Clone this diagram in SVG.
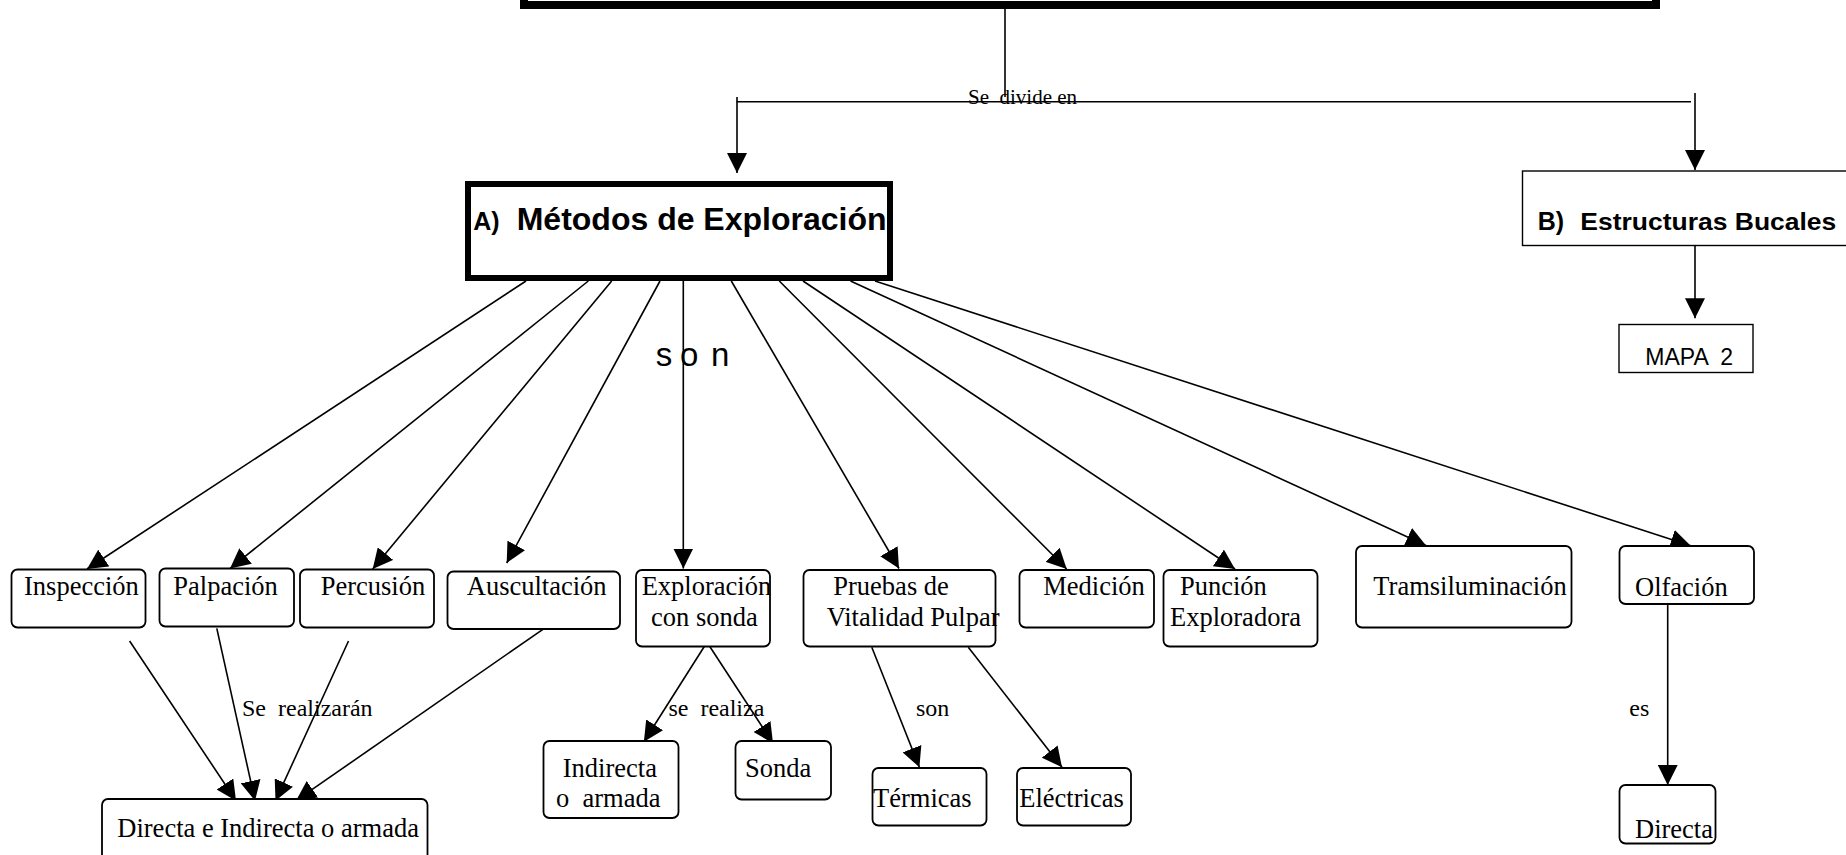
<svg xmlns="http://www.w3.org/2000/svg" width="1846" height="855" viewBox="0 0 1846 855">
<style>
.node{fill:#fff;stroke:#000;stroke-width:1.8}
.t{font-family:"Liberation Serif","Times New Roman",serif;font-size:26.5px;fill:#000;white-space:pre}
.lbl{font-family:"Liberation Serif","Times New Roman",serif;font-size:24px;fill:#000;white-space:pre}
.hb{font-family:"Liberation Sans",Arial,sans-serif;font-weight:bold;fill:#000;white-space:pre}
.e{fill:none;stroke:#000;stroke-width:1.6}
.ea{fill:none;stroke:#000;stroke-width:1.6;marker-end:url(#arr)}
</style>
<defs>
<marker id="arr" markerUnits="userSpaceOnUse" markerWidth="20" markerHeight="20" refX="20" refY="10" orient="auto" viewBox="0 0 20 20">
<path d="M0,0 L20,10 L0,20 z" fill="#000"/>
</marker>
</defs>
<rect width="1846" height="855" fill="#fff"/>

<g id="connectors">
<path class="e" d="M1005,9 L1005,97"/>
<path class="e" d="M736.7,101.7 L1691,101.7"/>
<path class="ea" d="M737,97 L737,173"/>
<path class="ea" d="M1695,93 L1695,170"/>
<path class="ea" d="M1695,246 L1695,318.3"/>
<path class="ea" d="M526,281 L87,569"/>
<path class="ea" d="M588.3,281 L230,568.5"/>
<path class="ea" d="M611.7,281 L372.7,569"/>
<path class="ea" d="M660,281 L506.7,563"/>
<path class="ea" d="M683.3,281 L683.3,568.5"/>
<path class="ea" d="M731.3,281 L899,568.5"/>
<path class="ea" d="M779.3,281 L1066.7,569"/>
<path class="ea" d="M803,281 L1235,569"/>
<path class="ea" d="M850.5,281 L1426,545.5"/>
<path class="ea" d="M875,281 L1690.7,545.7"/>
<path class="ea" d="M129.6,641 L236,800.7"/>
<path class="ea" d="M216.8,628.3 L255,800.7"/>
<path class="ea" d="M348.5,641 L275.5,800.7"/>
<path class="ea" d="M542.9,629.3 L296,800.7"/>
<path class="ea" d="M707,642.3 L643.9,741.7"/>
<path class="ea" d="M707,642.3 L773,743.3"/>
<path class="ea" d="M871.8,647.3 L919.4,767.3"/>
<path class="ea" d="M968.3,647.3 L1062,767.3"/>
<path class="ea" d="M1667.7,593.3 L1667.7,785"/>
<text class="lbl" x="968" y="104" style="font-size:21px">Se  divide en</text>
<text y="366" style="font-family:'Liberation Sans',Arial,sans-serif;font-size:33px;fill:#000"><tspan x="655.7">s</tspan><tspan x="680">o</tspan><tspan x="711">n</tspan></text>
<text class="lbl" x="242" y="716">Se  realizarán</text>
<text class="lbl" x="668.4" y="716">se  realiza</text>
<text class="lbl" x="916" y="716">son</text>
<text class="lbl" x="1629.3" y="716">es</text>
</g>

<g id="top">
<rect x="524" y="-100" width="1132" height="105" fill="#fff" stroke="#000" stroke-width="8"/>
</g>

<g id="metodos">
<rect x="468" y="184" width="422" height="94" fill="#fff" stroke="#000" stroke-width="6"/>
<text class="hb" x="473.3" y="230" style="font-size:25px">A)</text>
<text class="hb" x="516.7" y="230" style="font-size:32px">Métodos de Exploración</text>
</g>

<g id="estructuras">
<rect x="1522.5" y="171" width="400" height="74.5" fill="#fff" stroke="#000" stroke-width="1.4"/>
<text class="hb" x="1537.7" y="230" style="font-size:25px">B)</text>
<text class="hb" x="1580.3" y="230" style="font-size:24px" textLength="256" lengthAdjust="spacingAndGlyphs">Estructuras Bucales</text>
</g>

<g id="mapa2">
<rect x="1619" y="324.5" width="134" height="48" fill="#fff" stroke="#000" stroke-width="1.4"/>
<text x="1645.3" y="365" style="font-family:'Liberation Sans',Arial,sans-serif;font-size:23px;fill:#000;white-space:pre">MAPA  2</text>
</g>

<g id="inspeccion"><rect class="node" x="11.5" y="569.5" width="134" height="58" rx="6"/><text class="t" x="24" y="595">Inspección</text></g>
<g id="palpacion"><rect class="node" x="159.5" y="568.5" width="134.5" height="58" rx="6"/><text class="t" x="173.3" y="595">Palpación</text></g>
<g id="percusion"><rect class="node" x="300" y="569.5" width="134" height="58" rx="6"/><text class="t" x="320.7" y="595">Percusión</text></g>
<g id="auscultacion"><rect class="node" x="447.5" y="571.5" width="172.5" height="57.5" rx="6"/><text class="t" x="466.8" y="595">Auscultación</text></g>
<g id="exploracion"><rect class="node" x="636" y="570" width="134" height="76.5" rx="6"/><text class="t" x="641.7" y="595">Exploración</text><text class="t" x="651" y="626">con sonda</text></g>
<g id="pruebas"><rect class="node" x="803.5" y="570" width="192" height="76.5" rx="6"/><text class="t" x="833.3" y="595">Pruebas de</text><text class="t" x="826.7" y="626">Vitalidad Pulpar</text></g>
<g id="medicion"><rect class="node" x="1019.5" y="570" width="134.5" height="57.5" rx="6"/><text class="t" x="1043.3" y="595">Medición</text></g>
<g id="puncion"><rect class="node" x="1163.5" y="570" width="154" height="76.5" rx="6"/><text class="t" x="1180" y="595">Punción</text><text class="t" x="1170" y="626">Exploradora</text></g>
<g id="transiluminacion"><rect class="node" x="1356" y="546" width="215.5" height="81.5" rx="6"/><text class="t" x="1373.3" y="595">Tramsiluminación</text></g>
<g id="olfacion"><rect class="node" x="1619.5" y="546" width="134.5" height="58" rx="6"/><text class="t" x="1635" y="595.5">Olfación</text></g>
<g id="directa-indirecta"><rect class="node" x="102" y="799" width="325.5" height="70" rx="6"/><text class="t" x="117.3" y="837.3">Directa e Indirecta o armada</text></g>
<g id="indirecta"><rect class="node" x="543.5" y="741" width="135" height="77" rx="6"/><text class="t" x="562.8" y="776.7">Indirecta</text><text class="t" x="556" y="807.3">o  armada</text></g>
<g id="sonda"><rect class="node" x="735.5" y="741" width="95.5" height="58.5" rx="6"/><text class="t" x="745" y="776.7">Sonda</text></g>
<g id="termicas"><rect class="node" x="872.5" y="768" width="114" height="57.5" rx="6"/><text class="t" x="873" y="806.7">Térmicas</text></g>
<g id="electricas"><rect class="node" x="1017" y="768" width="114" height="57.5" rx="6"/><text class="t" x="1019.3" y="806.7">Eléctricas</text></g>
<g id="directa"><rect class="node" x="1619.5" y="785" width="96" height="58.5" rx="6"/><text class="t" x="1635" y="838.3">Directa</text></g>
</svg>
